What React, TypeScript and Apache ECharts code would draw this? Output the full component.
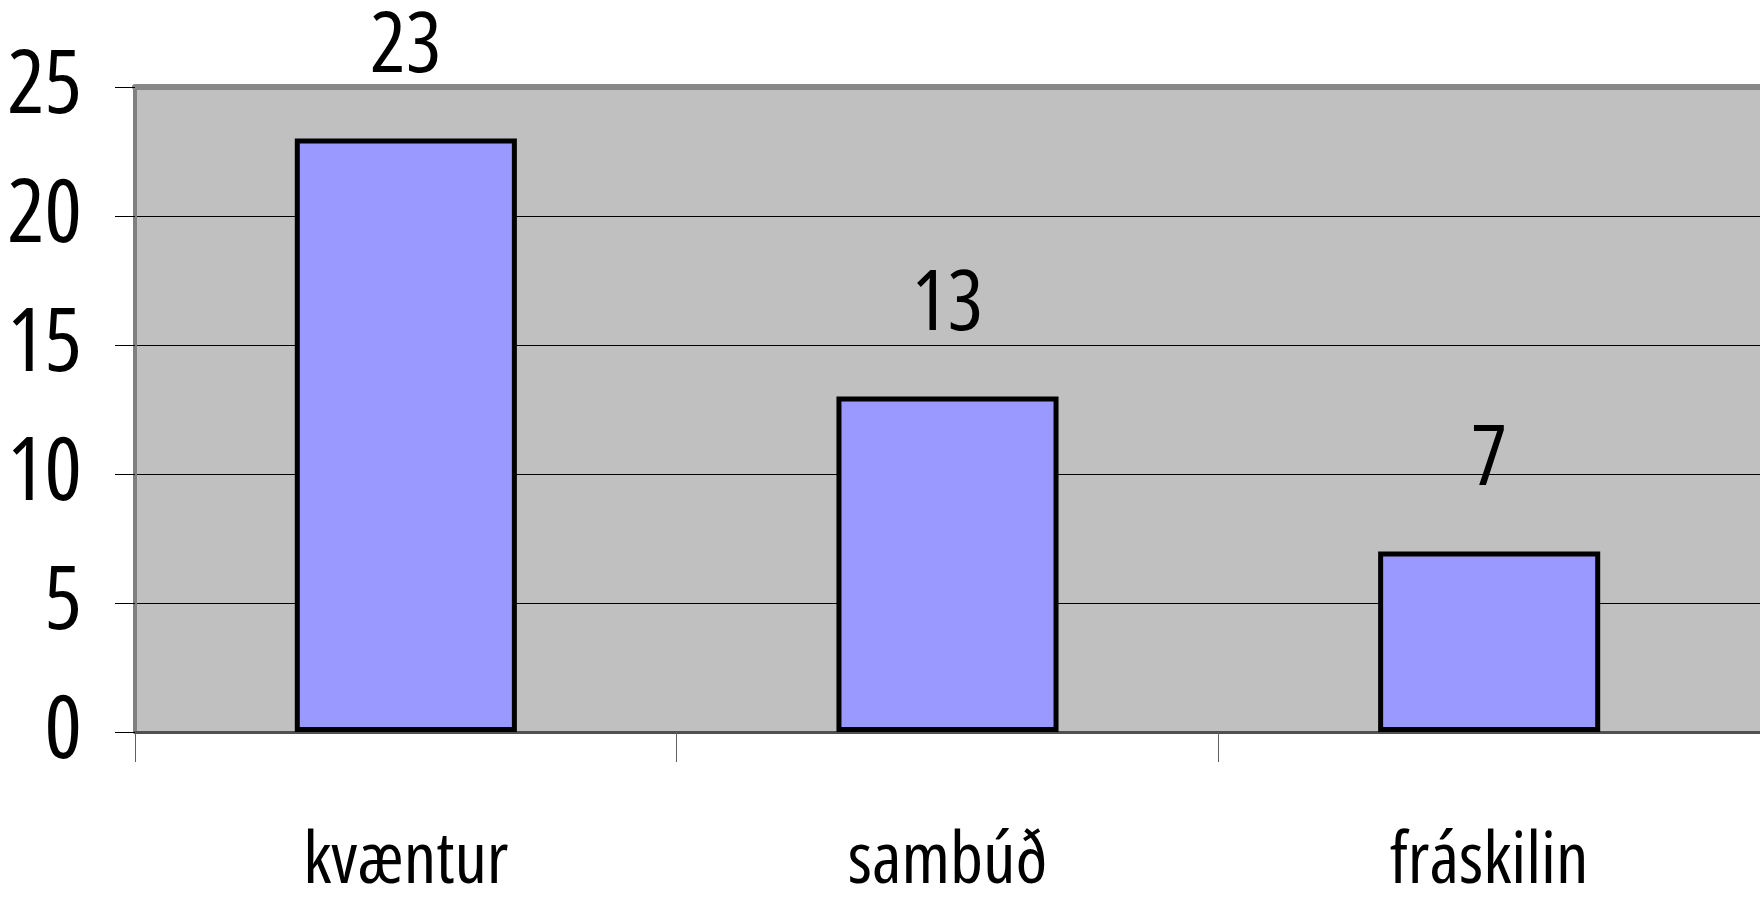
import React, { useEffect, useRef } from "react";
import * as echarts from "echarts";

const categories = ["kvæntur", "sambúð", "fráskilin"];
const values = [23, 13, 7];
const yTicks = { min: 0, max: 25, interval: 5 };

const FONT = "'Open Sans', 'Liberation Sans', Arial, sans-serif";

export default function App() {
  const ref = useRef<HTMLDivElement>(null);
  useEffect(() => {
    if (!ref.current) return;
    const chart = echarts.init(ref.current, null, { renderer: "svg" });
    chart.setOption({
      animation: false,
      backgroundColor: "#ffffff",
      grid: {
        left: 135,
        right: 0,
        top: 87,
        bottom: 173,
        show: true,
        backgroundColor: "#C0C0C0",
        borderWidth: 0,
        containLabel: false,
        outerBoundsMode: "none",
      },
      xAxis: [
        {
          type: "category",
          data: categories,
          position: "bottom",
          axisLine: { show: true, lineStyle: { color: "#505050", width: 3 } },
          axisTick: { show: true, length: 30, lineStyle: { color: "#606060", width: 1 } },
          axisLabel: {
            fontFamily: FONT,
            fontSize: 72,
            lineHeight: 58,
            color: "#000",
            margin: 94,
          },
        },
        {
          type: "category",
          data: categories,
          position: "top",
          axisLine: { show: true, lineStyle: { color: "#888888", width: 6 } },
          axisTick: { show: false },
          axisLabel: { show: false },
        },
      ],
      yAxis: {
        type: "value",
        min: yTicks.min,
        max: yTicks.max,
        interval: yTicks.interval,
        axisLine: { show: true, lineStyle: { color: "#808080", width: 4 } },
        axisTick: { show: true, length: 20, lineStyle: { color: "#000", width: 1 } },
        splitLine: { show: true, lineStyle: { color: "#000", width: 1 } },
        axisLabel: {
          color: "#000",
          margin: 53,
          formatter: "{v|{value}}",
          rich: {
            v: {
              fontFamily: FONT,
              fontSize: 88,
              color: "#000",
              padding: [0, 0, 16, 0],
            },
          },
        },
      },
      series: [
        {
          type: "bar",
          data: values,
          barWidth: "41%",
          itemStyle: { color: "#9999FF", borderColor: "#000", borderWidth: 5 },
          label: {
            show: true,
            position: "top",
            distance: 57,
            fontFamily: FONT,
            fontSize: 84,
            color: "#000",
          },
        },
      ],
    });
    return () => chart.dispose();
  }, []);
  return (
    <>
      <style>{`#root svg text { font-stretch: 75% !important; }`}</style>
      <div ref={ref} style={{ width: 1760, height: 905, position: "absolute", left: 0, top: 0 }} />
    </>
  );
}
